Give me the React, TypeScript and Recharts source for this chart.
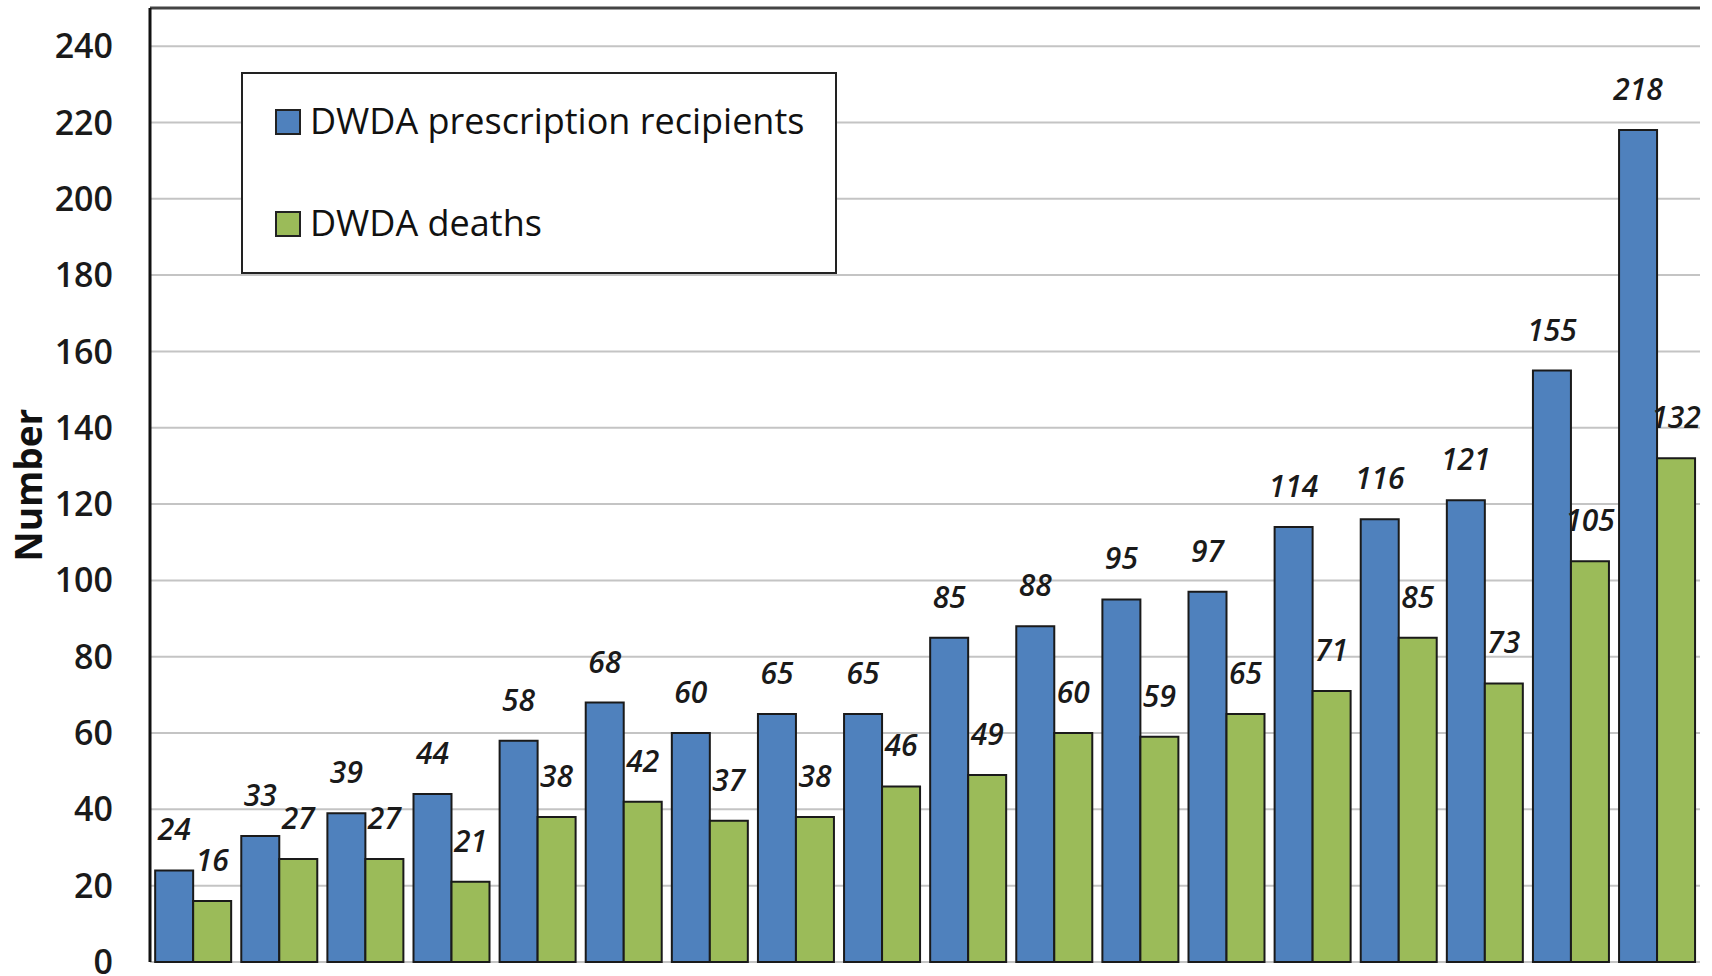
import React from "react";
import {
  BarChart,
  Bar,
  XAxis,
  YAxis,
  CartesianGrid,
  LabelList,
  ReferenceLine,
} from "recharts";

const years = [
  "1998", "1999", "2000", "2001", "2002", "2003", "2004", "2005", "2006",
  "2007", "2008", "2009", "2010", "2011", "2012", "2013", "2014", "2015",
];
const recipients = [24, 33, 39, 44, 58, 68, 60, 65, 65, 85, 88, 95, 97, 114, 116, 121, 155, 218];
const deaths = [16, 27, 27, 21, 38, 42, 37, 38, 46, 49, 60, 59, 65, 71, 85, 73, 105, 132];
const yTicks = [0, 20, 40, 60, 80, 100, 120, 140, 160, 180, 200, 220, 240];

const BLUE = "#4F81BD";
const GREEN = "#9BBB59";
const FONT = "'Open Sans', sans-serif";

const data = years.map((y, i) => ({ year: y, recipients: recipients[i], deaths: deaths[i] }));

// boxed legend like the excel original, laid over the plot
function LegendBox() {
  const items = [
    { label: "DWDA prescription recipients", color: BLUE, y: 46 },
    { label: "DWDA deaths", color: GREEN, y: 148 },
  ];
  return (
    <div
      style={{
        position: "absolute",
        left: 241,
        top: 72,
        width: 596,
        height: 202,
        border: "2px solid #222",
        background: "#fff",
        boxSizing: "border-box",
        fontFamily: FONT,
      }}
    >
      {items.map((it) => (
        <div
          key={it.label}
          style={{
            position: "absolute",
            left: 32,
            top: it.y - 25,
            height: 50,
            display: "flex",
            alignItems: "center",
          }}
        >
          <span
            style={{
              display: "inline-block",
              width: 22,
              height: 22,
              background: it.color,
              border: "2px solid #222",
              marginRight: 9,
              marginTop: 4,
            }}
          />
          <span style={{ fontSize: 36, color: "#111", whiteSpace: "nowrap" }}>{it.label}</span>
        </div>
      ))}
    </div>
  );
}

export default function App() {
  return (
    <div style={{ position: "absolute", left: 0, top: 0, width: 1712, height: 976, background: "#fff" }}>
      <BarChart
        width={1712}
        height={976}
        data={data}
        margin={{ top: 8, right: 12, bottom: 14, left: 0 }}
        barCategoryGap="6%"
        barGap={0}
      >
        <CartesianGrid vertical={false} stroke="#c4c4c4" strokeWidth={2} />
        <XAxis
          dataKey="year"
          tick={false}
          tickLine={false}
          height={0}
          axisLine={{ stroke: "#111", strokeWidth: 3 }}
        />
        <YAxis
          domain={[0, 250]}
          ticks={yTicks}
          width={150}
          tickLine={false}
          tickSize={0}
          tickMargin={37}
          interval={0}
          axisLine={{ stroke: "#111", strokeWidth: 3 }}
          tick={{ fontSize: 34, fontWeight: 600, fill: "#1a1a1a", fontFamily: FONT }}
          label={{
            value: "Number",
            angle: -90,
            position: "center",
            dx: -46,
            style: { fontSize: 37, fontWeight: 700, fill: "#111", fontFamily: FONT, textAnchor: "middle" },
          }}
        />
        <YAxis
          yAxisId="r"
          orientation="right"
          width={0}
          domain={[0, 250]}
          tick={false}
          tickLine={false}
          axisLine={{ stroke: "#8a8a8a", strokeWidth: 3 }}
        />
        <ReferenceLine y={250} stroke="#444" strokeWidth={3} />
        <Bar
          dataKey="recipients"
          name="DWDA prescription recipients"
          fill={BLUE}
          stroke="#1a1a1a"
          strokeWidth={2}
          isAnimationActive={false}
        >
          <LabelList
            dataKey="recipients"
            position="top"
            offset={30}
            style={{ fontSize: 30, fontStyle: "italic", fontWeight: 600, fill: "#1a1a1a", fontFamily: FONT }}
          />
        </Bar>
        <Bar
          dataKey="deaths"
          name="DWDA deaths"
          fill={GREEN}
          stroke="#1a1a1a"
          strokeWidth={2}
          isAnimationActive={false}
        >
          <LabelList
            dataKey="deaths"
            position="top"
            offset={30}
            style={{ fontSize: 30, fontStyle: "italic", fontWeight: 600, fill: "#1a1a1a", fontFamily: FONT }}
          />
        </Bar>
      </BarChart>
      <LegendBox />
    </div>
  );
}
